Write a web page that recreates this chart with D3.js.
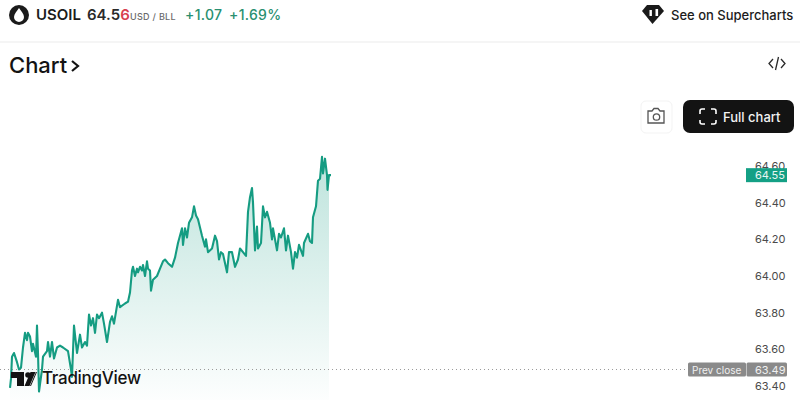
<!DOCTYPE html>
<html>
<head>
<meta charset="utf-8">
<script src="https://cdn.jsdelivr.net/npm/d3@7"></script>
<style>
    html, body { margin: 0; padding: 0; background: #fff; }
    text { font-family: Inter, "Noto Sans", sans-serif; }
    .tick text { font-size: 11px; fill: #4a4a4a; }
</style>
</head>
<body>
<svg id="chart" width="800" height="400"></svg>
<script>
// bar position along the session and price
var bars = [10,11,12,14,17,19,21,23,25,27,28,30,32,33,36,37,38,39,42,43,47,48,50,52,54,57,60,63,68,71,72,74,77,80,82,85,87,89,91,93,95,97,99,102,104,107,110,112,114,118,120,125,128,130,
    132,133,135,137,138,140,142,143,145,147,148,150,151,153,157,160,163,165,168,172,175,178,182,183,185,187,189,192,194,196,198,202,205,206,208,212,215,217,219,221,223,227,229,232,235,238,240,243,246,248,250,252,253,255,257,258,261,263,265,267,
    270,272,273,277,279,281,284,286,288,291,293,295,297,299,303,304,308,310,312,313,316,318,320,322,323,325,327,327.5,329,331];
var prices = [63.39,63.44,63.56,63.58,63.53,63.49,63.50,63.61,63.69,63.65,63.69,63.67,63.59,63.63,63.56,63.73,63.58,63.37,63.49,63.56,63.59,63.64,63.56,63.64,63.55,63.61,63.62,63.61,63.59,63.49,63.45,63.73,63.58,63.68,63.61,63.64,63.62,63.79,63.73,63.77,63.69,63.79,63.77,63.80,63.74,63.64,63.75,63.78,63.74,63.87,63.83,63.85,63.86,63.91,
    64.03,64.05,64.00,64.04,64.02,64.05,64.03,64.06,64.00,64.08,64.04,64.03,63.92,63.98,64.00,64.04,64.08,64.09,64.07,64.05,64.10,64.18,64.26,64.17,64.26,64.21,64.29,64.32,64.38,64.33,64.31,64.22,64.16,64.20,64.13,64.15,64.22,64.19,64.09,64.13,64.12,64.02,64.13,64.13,64.05,64.09,64.15,64.13,64.11,64.35,64.43,64.48,64.40,64.14,64.27,64.15,64.18,64.38,64.32,64.35,
    64.29,64.20,64.26,64.14,64.23,64.21,64.26,64.14,64.22,64.13,64.04,64.13,64.10,64.17,64.11,64.18,64.23,64.19,64.18,64.32,64.38,64.52,64.53,64.65,64.56,64.64,64.55,64.47,64.55,64.55];
var axisTicks = [63.40,63.60,63.80,64.00,64.20,64.40,64.60];
var lastPrice = 64.55;
var prevClose = 63.49;

var lineColor = "#159c82";
var svg = d3.select("#chart");

var x = d3.scaleLinear().domain([10, 331]).range([10, 331]);
var y = d3.scaleLinear().domain([63.40, 64.60]).range([386, 166]);

// header
svg.append("circle").attr("cx", 19).attr("cy", 15).attr("r", 10).attr("fill", "#1b1b1b");
svg.append("path").attr("d", "M19 8 C21 11 24 14 24 17 A5 5 0 0 1 14 17 C14 14 17 11 19 8 Z").attr("fill", "#fff");

function label(px, py, str, size, color, weight, anchor) {
    return svg.append("text").attr("x", px).attr("y", py).text(str)
        .style("font-size", size + "px").attr("fill", color)
        .attr("font-weight", weight || 400).attr("text-anchor", anchor || "start");
}

label(36, 20, "USOIL", 15, "#1c1c1c", 600);
var head = label(87, 20, "64.5", 15, "#2a2a2a", 600);
head.append("tspan").attr("fill", "#d8404f").text("6");
label(130, 20, "USD / BLL", 9, "#6a6a6a", 500).attr("letter-spacing", "0.3");
label(185, 20, "+1.07", 14, "#2a8f70", 500).attr("letter-spacing", "0.3");
label(229, 20, "+1.69%", 14, "#2a8f70", 500).attr("letter-spacing", "0.3");

svg.append("path").attr("d", "M647 5 H659 L664 11 L652.5 24 L642 11 Z").attr("fill", "#1a1a1a");
svg.append("rect").attr("x", 649.5).attr("y", 10).attr("width", 2.4).attr("height", 6).attr("fill", "#fff");
svg.append("rect").attr("x", 655.5).attr("y", 9).attr("width", 2.6).attr("height", 7).attr("fill", "#fff");
label(671, 20, "See on Supercharts", 13, "#1c1c1c", 500);

svg.append("line").attr("x1", 0).attr("x2", 800).attr("y1", 42).attr("y2", 42).attr("stroke", "#f2f2f2").attr("stroke-width", 1.5);

label(9, 73, "Chart", 22, "#131313", 500);
svg.append("path").attr("d", "M72 61 L78 66 L72 71").attr("fill", "none").attr("stroke", "#131313").attr("stroke-width", 2.2);

svg.append("path").attr("d", "M773 59 L769 63.5 L773 68 M781 59 L785 63.5 L781 68 M778.5 57 L775.5 70")
    .attr("fill", "none").attr("stroke", "#2a2a2a").attr("stroke-width", 1.3);

// buttons
svg.append("rect").attr("x", 641).attr("y", 101).attr("width", 31).attr("height", 32).attr("rx", 5)
    .attr("fill", "#fff").attr("stroke", "#f3f3f3");
svg.append("path").attr("d", "M649 111 H652 L654 108.5 H658 L660 111 H664 V123 H648 V111 Z")
    .attr("fill", "none").attr("stroke", "#555").attr("stroke-width", 1.3);
svg.append("circle").attr("cx", 656.5).attr("cy", 117).attr("r", 3.2).attr("fill", "none").attr("stroke", "#555").attr("stroke-width", 1.3);

svg.append("rect").attr("x", 683).attr("y", 100).attr("width", 111).attr("height", 33).attr("rx", 7).attr("fill", "#131313");
svg.append("path").attr("d", "M700 114 V111 Q700 109 702 109 H705 M711 109 H714 Q716 109 716 111 V114 M716 120 V122 Q716 124 714 124 H711 M705 124 H702 Q700 124 700 122 V120")
    .attr("fill", "none").attr("stroke", "#fff").attr("stroke-width", 1.6);
label(723, 122, "Full chart", 13, "#f2f2f2", 500);

// area + line
var defs = svg.append("defs");
var grad = defs.append("linearGradient").attr("id", "areaFill")
    .attr("gradientUnits", "userSpaceOnUse")
    .attr("x1", 0).attr("x2", 0).attr("y1", 155).attr("y2", 400);
grad.append("stop").attr("offset", "0%").attr("stop-color", lineColor).attr("stop-opacity", 0.28);
grad.append("stop").attr("offset", "100%").attr("stop-color", lineColor).attr("stop-opacity", 0.01);

var points = bars.map(function (b, i) { return {bar: b, price: prices[i]}; });

var area = d3.area()
    .x(function (d) { return x(d.bar); })
    .y0(400)
    .y1(function (d) { return y(d.price); });

var line = d3.line()
    .x(function (d) { return x(d.bar); })
    .y(function (d) { return y(d.price); });

svg.append("path").datum(points.slice(0, -1)).attr("d", area).attr("fill", "url(#areaFill)");

// prev close dotted line
svg.append("line")
    .attr("x1", 0).attr("x2", 688)
    .attr("y1", y(prevClose)).attr("y2", y(prevClose))
    .attr("stroke", "#9a9a9a").attr("stroke-width", 1).attr("stroke-dasharray", "1,3");

svg.append("path").datum(points).attr("d", line)
    .attr("fill", "none").attr("stroke", lineColor).attr("stroke-width", 2.1).attr("stroke-linejoin", "round");

// price axis
var yAxis = d3.axisRight(y).tickValues(axisTicks).tickSize(0).tickPadding(0)
    .tickFormat(d3.format(".2f"));
var gY = svg.append("g").attr("transform", "translate(755,0)").call(yAxis);
gY.select(".domain").remove();

// last price tag
svg.append("rect").attr("x", 746).attr("y", y(lastPrice) - 7).attr("width", 41).attr("height", 14).attr("fill", "#14a085");
label(755, y(lastPrice) + 4, d3.format(".2f")(lastPrice), 11, "#e9f6f3");

// prev close tag
svg.append("rect").attr("x", 688).attr("y", y(prevClose) - 7).attr("width", 58).attr("height", 14).attr("rx", 1.5).attr("fill", "#8a8a8a");
svg.append("rect").attr("x", 746.5).attr("y", y(prevClose) - 7).attr("width", 40.5).attr("height", 14).attr("rx", 1.5).attr("fill", "#8a8a8a");
label(692, y(prevClose) + 4, "Prev close", 10, "#f0f0f0");
label(755, y(prevClose) + 4, d3.format(".2f")(prevClose), 11, "#f0f0f0");

// TradingView logo
svg.append("path").attr("d", "M11 372 H24 V386 H17 V378 H11 Z M29.5 386 L35.5 372 H37 L31 386 Z M30 386 L36 372 H30.5 L24.5 386 Z").attr("fill", "#131313");
svg.append("circle").attr("cx", 28).attr("cy", 375).attr("r", 2.8).attr("fill", "#131313");
label(42, 384, "TradingView", 17, "#131313", 500).attr("letter-spacing", "-0.3");
</script>
</body>
</html>
